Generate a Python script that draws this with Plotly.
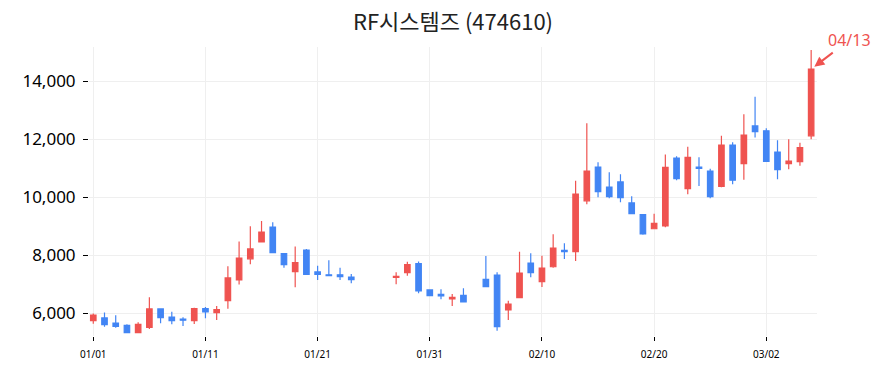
import plotly.graph_objects as go

dates = [
    "2025-01-01", "2025-01-02", "2025-01-03", "2025-01-04", "2025-01-05", "2025-01-06",
    "2025-01-07", "2025-01-08", "2025-01-09", "2025-01-10", "2025-01-11", "2025-01-12",
    "2025-01-13", "2025-01-14", "2025-01-15", "2025-01-16", "2025-01-17", "2025-01-18",
    "2025-01-19", "2025-01-20", "2025-01-21", "2025-01-22", "2025-01-23", "2025-01-24",
    "2025-01-28", "2025-01-29", "2025-01-30", "2025-01-31", "2025-02-01", "2025-02-02",
    "2025-02-03", "2025-02-05", "2025-02-06", "2025-02-07", "2025-02-08", "2025-02-09",
    "2025-02-10", "2025-02-11", "2025-02-12", "2025-02-13", "2025-02-14", "2025-02-15",
    "2025-02-16", "2025-02-17", "2025-02-18", "2025-02-19", "2025-02-20", "2025-02-21",
    "2025-02-22", "2025-02-23", "2025-02-24", "2025-02-25", "2025-02-26", "2025-02-27",
    "2025-02-28", "2025-03-01", "2025-03-02", "2025-03-03", "2025-03-04", "2025-03-05",
    "2025-03-06",
]
opens = [5750, 5840, 5665, 5585, 5330, 5517, 6150, 5870, 5800, 5745, 6160, 6020,
         6435, 7150, 7880, 8460, 8975, 8055, 7435, 8180, 7425, 7330, 7330, 7250,
         7240, 7400, 7710, 6805, 6655, 6500, 6620, 7170, 7320, 6115, 6540, 7735,
         7090, 7605, 8170, 8125, 9880, 11045, 10355, 10530, 9805, 9400, 8915, 9010,
         11355, 10300, 11045, 10905, 10380, 11800, 11160, 12460, 12295, 11560, 11160,
         11230, 12120]
highs = [5990, 6030, 5930, 5620, 5690, 6550, 6170, 6055, 5860, 6190, 6220, 6250,
         7620, 8480, 9000, 9180, 9140, 8055, 8300, 8215, 7640, 7830, 7570, 7355,
         7415, 7780, 7790, 6805, 6830, 6665, 6860, 7975, 7415, 6435, 8125, 8070,
         7985, 8725, 8415, 10570, 12550, 11205, 10860, 10795, 10035, 9400, 9435, 11480,
         11415, 11745, 11380, 10985, 12125, 11895, 12860, 13470, 12380, 11965, 12000,
         11880, 15080]
lows = [5640, 5540, 5500, 5310, 5310, 5460, 5655, 5620, 5560, 5630, 5830, 5770,
        6160, 6990, 7690, 8460, 8090, 7570, 6900, 7320, 7150, 7295, 7150, 7035,
        7000, 7295, 6690, 6610, 6485, 6250, 6390, 6915, 5400, 5770, 6540, 7240,
        6905, 7570, 7875, 7800, 9760, 10000, 9965, 9830, 9415, 8710, 8905, 8965,
        10585, 10105, 10390, 9965, 10345, 10450, 10605, 12065, 11215, 10620, 10965,
        11090, 12000]
closes = [5940, 5610, 5550, 5330, 5620, 6150, 5850, 5745, 5760, 6160, 6045, 6125,
          7220, 7905, 8220, 8800, 8090, 7675, 7745, 7345, 7345, 7295, 7260, 7160,
          7275, 7675, 6770, 6610, 6600, 6550, 6390, 6915, 5540, 6320, 7390, 7400,
          7560, 8250, 8125, 10110, 10905, 10195, 10020, 9985, 9435, 8735, 9100, 11035,
          10640, 11380, 11000, 10020, 11800, 10590, 12145, 12260, 11240, 10950, 11250,
          11710, 14420]

title_text = "RF시스템즈 (474610)"
last_label = "04/13"

UP = "#ef5350"
DOWN = "#4285f4"

fig = go.Figure(go.Candlestick(
    x=dates, open=opens, high=highs, low=lows, close=closes,
    increasing=dict(line=dict(color=UP, width=1.2), fillcolor=UP),
    decreasing=dict(line=dict(color=DOWN, width=1.2), fillcolor=DOWN),
    whiskerwidth=0, hoverinfo="skip", showlegend=False,
))

fig.add_annotation(
    x=dates[-1], y=closes[-1], xref="x", yref="y",
    text=last_label, showarrow=True, arrowhead=2, arrowsize=1, arrowwidth=2,
    arrowcolor=UP, ax=38, ay=-29, standoff=4,
    font=dict(family="Noto Sans", size=16, color=UP),
)

fig.update_layout(
    width=884, height=373,
    margin=dict(l=89, r=67, t=47, b=37),
    paper_bgcolor="white", plot_bgcolor="white",
    font=dict(family="Noto Sans", color="#000"),
    title=dict(text=title_text, x=0.5, xref="paper", y=0.94, yanchor="middle",
               font=dict(family="Noto Sans CJK KR", size=22, color="#222")),
    xaxis=dict(
        type="date", rangeslider=dict(visible=False),
        range=["2024-12-31 14:50", "2025-03-06 12:30"],
        tick0="2025-01-01", dtick=864000000, tickformat="%m/%d",
        showgrid=True, gridcolor="#efefef", gridwidth=1,
        ticks="outside", ticklen=4, tickcolor="#000", ticklabelstandoff=5,
        tickfont=dict(size=10, color="#000"), showline=False, zeroline=False,
    ),
    yaxis=dict(
        range=[5217, 15183], dtick=2000, tickformat=",",
        showgrid=True, gridcolor="#efefef", gridwidth=1,
        ticks="outside", ticklen=5, tickcolor="#000", ticklabelstandoff=4,
        tickfont=dict(size=17, color="#000"), showline=False, zeroline=False,
    ),
)

fig.write_html("out.html")
